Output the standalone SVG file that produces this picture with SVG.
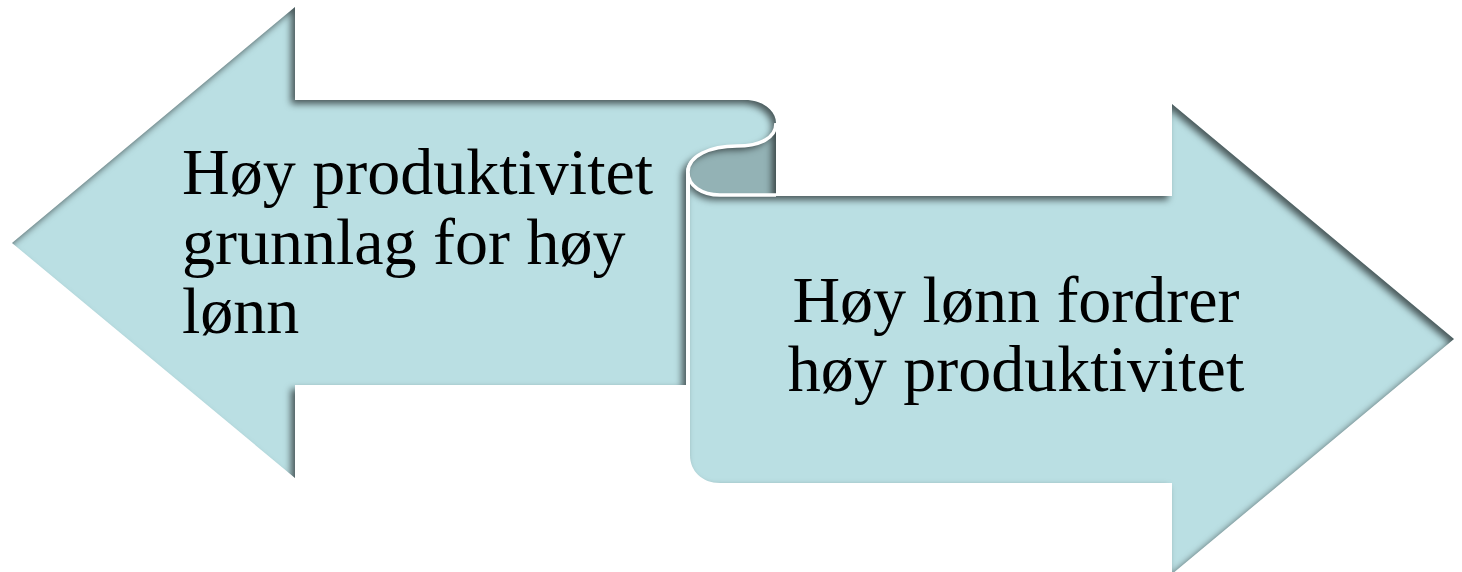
<svg xmlns="http://www.w3.org/2000/svg" width="1462" height="572" viewBox="0 0 1462 572">
  <style>
    .body { fill: #BADFE3; }
    .back { fill: #93B2B5; }
    .lbl { font-family: "Liberation Serif", "Times New Roman", serif; font-size: 66px; fill: #000; }
    .curl { fill: none; stroke: #FFFFFF; stroke-width: 3.5; }
  </style>
  <defs>
    <filter id="inner" x="-5%" y="-5%" width="110%" height="110%" color-interpolation-filters="sRGB">
      <feOffset in="SourceAlpha" dx="-4" dy="4" result="off"/>
      <feGaussianBlur in="off" stdDeviation="3.5" result="blur"/>
      <feComposite in="SourceAlpha" in2="blur" operator="out" result="mask"/>
      <feFlood flood-color="#000000" flood-opacity="0.6"/>
      <feComposite in2="mask" operator="in" result="inner"/>
      <feMerge>
        <feMergeNode in="SourceGraphic"/>
        <feMergeNode in="inner"/>
      </feMerge>
    </filter>
  </defs>
  <rect width="1462" height="572" fill="#FFFFFF"/>

  <g id="curl-back">
    <path class="back" filter="url(#inner)" d="M 776,122 L 776,196 L 720,196 C 700,196 688,186 688,172 C 688,156 710,146 737,146 C 760,146 776,138 776,122 Z"/>
  </g>

  <g id="node-left">
    <path class="body" filter="url(#inner)" d="M 12,243 L 295,7 L 295,100 L 745,100 C 762,100 776,110 776,123 C 776,138 760,146 737,146 C 710,146 686,156 686,172 L 686,385 L 295,385 L 295,478 Z"/>
    <text class="lbl" x="182" y="194">Høy produktivitet</text>
    <text class="lbl" x="182" y="264">grunnlag for høy</text>
    <text class="lbl" x="182" y="333">lønn</text>
  </g>

  <g id="node-right">
    <path class="body" filter="url(#inner)" d="M 690,172 C 690,186 702,196 720,196 L 1172,196 L 1172,104 L 1454,339 L 1172,574 L 1172,483 L 720,483 C 702,483 690,471 690,455 Z"/>
    <text class="lbl" x="1016" y="322" text-anchor="middle">Høy lønn fordrer</text>
    <text class="lbl" x="1016" y="391" text-anchor="middle">høy produktivitet</text>
  </g>

  <g id="connectors">
    <path class="curl" d="M 776,123 C 776,138 760,146 737,146 C 710,146 688,156 688,172 C 688,186 702,195 720,195 L 776,195"/>
  </g>
</svg>
